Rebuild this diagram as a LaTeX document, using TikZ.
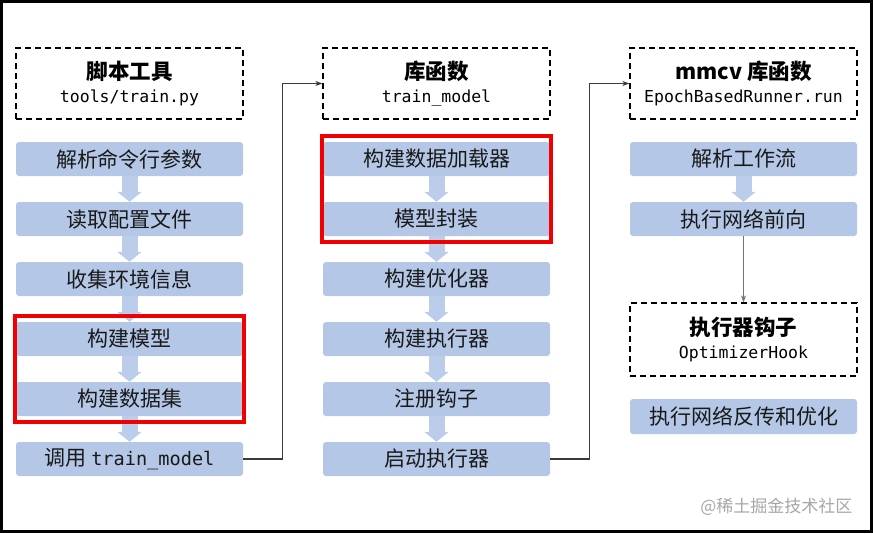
\documentclass[tikz,border=0pt]{standalone}
\usepackage{fontspec}
\setmainfont{Noto Sans CJK SC}
\setmonofont{DejaVu Sans Mono}
\usetikzlibrary{positioning, arrows.meta, fit}

\definecolor{boxblue}{HTML}{B4C7E7}
\definecolor{flowblue}{HTML}{BCCDEB}
\definecolor{linkgray}{HTML}{3A3A3A}
\definecolor{markred}{HTML}{F00000}

\newcommand{\headlines}[2]{{\bfseries #1}\\{\fontsize{16.5}{23}\selectfont\ttfamily #2}}
\newcommand{\monobox}{\fontsize{18.6}{22}\selectfont\ttfamily}

\begin{document}
\begin{tikzpicture}[x=1pt, y=-1pt, node distance=60pt, on grid]
    \tikzset{
        stepbox/.style={fill=boxblue, rounded corners=3pt, minimum width=227pt, minimum height=34pt,
            inner sep=0pt, text=black!90, font=\fontsize{21}{23}\selectfont},
        headbox/.style={draw, dash pattern=on 6pt off 4pt, line width=1.3pt, minimum width=227pt,
            minimum height=71pt, inner sep=0pt, align=center, font=\fontsize{21.5}{23.5}\selectfont},
        flow/.style={draw=flowblue, line width=16pt, -{Triangle[width=24pt, length=10pt]}},
        link/.style={draw=linkgray, line width=1.3pt, -{Stealth[length=7pt, width=5pt]}},
        markbox/.style={draw=markred, line width=4pt, inner xsep=0.5pt, inner ysep=5.5pt},
    }

    \useasboundingbox (0,0) rectangle (873,533);
    \draw[line width=2.6pt] (1.3,1.3) rectangle (871.7,531.7);

    % SCRIPT
    \node[headbox] (s0) at (129.5,83.5) {\headlines{脚本工具}{tools/train.py}};
    \node[stepbox] (s1) at (129.5,159) {解析命令行参数};
    \node[stepbox] (s2) [below=of s1] {读取配置文件};
    \node[stepbox] (s3) [below=of s2] {收集环境信息};
    \node[stepbox] (s4) [below=of s3] {构建模型};
    \node[stepbox] (s5) [below=of s4] {构建数据集};
    \node[stepbox] (s6) [below=of s5] {调用 {\monobox train\_model}};

    % TRAIN_MODEL
    \node[headbox] (t0) [right=307pt of s0] {\headlines{库函数}{train\_model}};
    \node[stepbox] (t1) [right=307pt of s1] {构建数据加载器};
    \node[stepbox] (t2) [below=of t1] {模型封装};
    \node[stepbox] (t3) [below=of t2] {构建优化器};
    \node[stepbox] (t4) [below=of t3] {构建执行器};
    \node[stepbox] (t5) [below=of t4] {注册钩子};
    \node[stepbox] (t6) [below=of t5] {启动执行器};

    % RUNNER
    \node[headbox] (r0) [right=307pt of t0] {\headlines{mmcv 库函数}{EpochBasedRunner.run}};
    \node[stepbox] (r1) [right=307pt of t1] {解析工作流};
    \node[stepbox] (r2) [below=of r1] {执行网络前向};
    \node[headbox, minimum height=73pt] (r3) [below=120.5pt of r2] {\headlines{执行器钩子}{OptimizerHook}};
    \node[stepbox, minimum height=35pt] (r4) [below=77pt of r3] {执行网络反传和优化};

    % FLOW
    \foreach \a/\b in {s1/s2, s2/s3, s3/s4, s4/s5, s5/s6, t1/t2, t2/t3, t3/t4, t4/t5, t5/t6, r1/r2}
        \draw[flow] (\a.south) -- (\b.north);

    % CALLS
    \coordinate (j1) at ([xshift=-40pt]t0.west);
    \coordinate (j2) at ([xshift=-40pt]r0.west);
    \draw[link] (s6.east) -| (j1) -- (t0.west);
    \draw[link] (t6.east) -| (j2) -- (r0.west);
    \draw[link, draw=black!55, line width=1pt] (r2.south) -- (r3.north);

    % HIGHLIGHTS
    \node[markbox, fit=(s4)(s5)] (m1) {};
    \node[markbox, fit=(t1)(t2)] (m2) {};

    \node[anchor=east, text=black!35, font=\fontsize{17}{20}\selectfont] (wm) at (856,507) {@稀土掘金技术社区};
\end{tikzpicture}
\end{document}
